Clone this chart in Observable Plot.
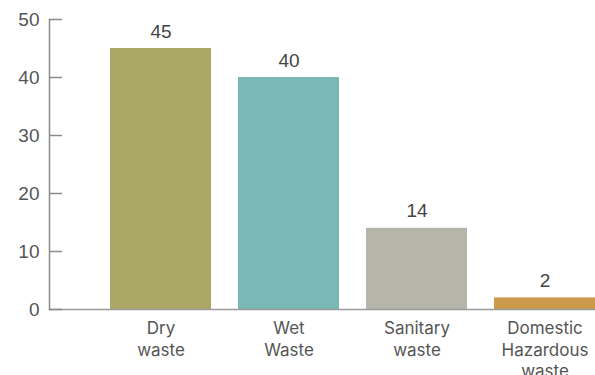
<!DOCTYPE html>
<html>
<head>
<meta charset="utf-8">
<script src="https://cdn.jsdelivr.net/npm/d3@7"></script>
<script src="https://cdn.jsdelivr.net/npm/@observablehq/plot@0.6"></script>
<style>
  html, body { margin: 0; padding: 0; background: #fff; }
  #chart svg { display: block; }
</style>
</head>
<body>
<div id="chart"></div>
<script>
const categories = ["Dry\nwaste", "Wet\nWaste", "Sanitary\nwaste", "Domestic\nHazardous\nwaste"];
const values = [45, 40, 14, 2];
const colors = ["#aba865", "#7ab8b5", "#b5b5a9", "#cc9a4b"];
const yTicks = [0, 10, 20, 30, 40, 50];

const data = categories.map((c, i) => ({category: c, value: values[i], color: colors[i]}));

const chart = Plot.plot({
  width: 595,
  height: 375,
  marginLeft: 49,
  marginRight: 0,
  marginTop: 19,
  marginBottom: 66,
  style: {fontFamily: "Inter, sans-serif", background: "#fff"},
  x: {domain: categories, range: [110, 596], paddingInner: 0.21, paddingOuter: 0, label: null},
  y: {domain: [0, 50], label: null},
  marks: [
    Plot.barY(data, {x: "category", y: "value", fill: "color"}),
    Plot.frame({anchor: "left", stroke: "#8a8a8a", strokeWidth: 1.5}),
    Plot.frame({anchor: "bottom", stroke: "#9a9a9a", strokeWidth: 1.5}),
    Plot.axisY(yTicks, {tickSize: 13, dx: 13, text: null, stroke: "#8a8a8a", strokeWidth: 1.5, label: null}),
    Plot.axisY(yTicks, {tickSize: 0, tickPadding: 10, fontSize: 19, fill: "#555", fontFamily: "Liberation Sans, sans-serif", label: null}),
    Plot.axisX({tickSize: 0, tickPadding: 9, fontSize: 17, fill: "#555", lineHeight: 1.28, label: null}),
    Plot.text(data, {x: "category", y: "value", text: d => String(d.value), dy: -17, fontSize: 19, fill: "#444", fontFamily: "Liberation Sans, sans-serif"})
  ]
});
document.getElementById("chart").appendChild(chart);
</script>
</body>
</html>
